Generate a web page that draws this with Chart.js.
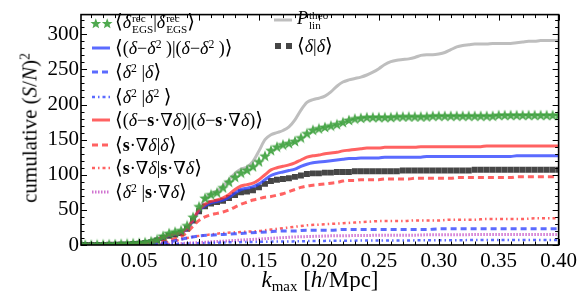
<!DOCTYPE html>
<html><head><meta charset="utf-8">
<script src="https://cdn.jsdelivr.net/npm/chart.js@4"></script>
<style>
body{margin:0;background:#fff}
#wrap{position:relative;width:581px;height:291px;font-family:'Liberation Serif','DejaVu Serif',serif;color:#000;overflow:hidden}
canvas{position:absolute;left:0;top:0}
.row{position:absolute;height:24px;display:flex;align-items:center;font-size:18px;white-space:nowrap;line-height:1}
.row svg{margin-right:2px;flex:none}
.ang{font-family:'DejaVu Serif',serif;font-size:1.1em;font-weight:300}
sup{font-size:0.65em;vertical-align:0.55em;line-height:0}
sub{font-size:0.65em;vertical-align:-0.3em;line-height:0}
.ss{display:inline-flex;flex-direction:column;font-size:0.62em;line-height:0.95;vertical-align:middle;margin-left:1px}
.ttl{position:absolute;white-space:nowrap;font-size:21px;line-height:1}
</style></head>
<body>
<div id="wrap">
<canvas id="c" width="581" height="291"></canvas>
<div id="legend"></div>
<div class="ttl" id="xt" style="left:320px;top:268px;transform:translateX(-50%);font-size:23px"><i>k</i><sub>max</sub> [<i>h</i>/Mpc]</div>
<div class="ttl" id="yt" style="left:30px;top:128px;transform:translate(-50%,-50%) rotate(-90deg)">cumulative (<i>S</i>/<i>N</i>)<sup>2</sup></div>
</div>
<script>
// ---------- data ----------
const k = [0.002,0.005,0.01,0.015,0.02,0.025,0.03,0.035,0.04,0.045,0.05,0.055,0.06,0.065,0.07,0.075,0.08,0.085,0.09,0.095,0.1,0.105,0.11,0.115,0.12,0.125,0.13,0.135,0.14,0.145,0.15,0.155,0.16,0.165,0.17,0.175,0.18,0.185,0.19,0.195,0.2,0.205,0.21,0.215,0.22,0.225,0.23,0.235,0.24,0.245,0.25,0.255,0.26,0.265,0.27,0.275,0.28,0.285,0.29,0.295,0.3,0.305,0.31,0.315,0.32,0.325,0.33,0.335,0.34,0.345,0.35,0.355,0.36,0.365,0.37,0.375,0.38,0.385,0.39,0.395,0.4];
const kCoarse = [0.002,0.01,0.02,0.03,0.04,0.05,0.06,0.07,0.08,0.09,0.1,0.11,0.12,0.13,0.14,0.15,0.16,0.17,0.18,0.19,0.2,0.21,0.22,0.23,0.24,0.25,0.26,0.27,0.28,0.29,0.3,0.31,0.32,0.33,0.34,0.35,0.36,0.37,0.38,0.39,0.4];

const egsRec = [0.3,0.5,0.6,0.8,1,1.2,1.5,1.8,2.2,2.6, 3.2,4,5.5,8,13,17,19,21,28,40, 55,67,72,75,82,90,97,103,107,112, 119,127,135,140,143,145,148,153,159,164, 166,168,170,172,175,178,180,181,182,182, 182,182,182,183,183,183,183,183,183,184, 184,184,184,184,184,184,184,184,184,184, 185,185,185,185,185,185,185,185,185,185,185];
const dMinusD2 = [0,0,0,0.1,0.2,0.3,0.5,0.7,1,1.4, 2,2.8,4.3,6.8,10.5,13.5,15.5,17.5,23,35, 49,56,60,62,64,68,74,79,81,83, 87,93,99,102,104,106,108,112,115,117, 118,119,120,121,122,123,123,124,124,124, 124,125,125,125,125,125,125,125,126,126, 126,126,126,126,126,126,126,126,126,126, 126,126,126,127,127,127,127,127,127,127,127];
const dMinusShift = [0,0,0,0.1,0.2,0.3,0.5,0.7,1,1.5, 2,3,4.5,7,11,14,16,18,24,36, 50,58,62,64,67,72,79,84,86,88, 93,100,107,110,112,114,117,121,125,127, 128,130,131,132,134,135,136,137,138,138, 138,139,139,139,139,139,139,140,140,140, 140,140,140,140,140,140,140,140,141,141, 141,141,141,141,141,141,141,141,141,141,141];
const shiftDelta = [0,0,0,0,0,0,0.1,0.2,0.3,0.5, 0.8,1.2,2,3,5,7,9,12,18,27, 35,40,43,45,47,50,54,58,61,64, 66,68,69,71,73,76,79,82,84,85, 86,87,88,89,91,92,92,93,93,93, 93,94,94,94,94,94,95,95,95,95, 95,95,95,96,96,96,96,96,96,96, 96,96,96,97,97,97,97,97,97,97,97];
const pLinTheo = [0,0,0.1,0.2,0.3,0.5,0.7,1,1.5,2, 3,4,6,9,13,16,18,20,25,36, 51,66,73,77,84,93,102,108,111,119, 134,150,157,160,163,168,178,192,203,207, 209,212,218,226,232,235,237,239,242,246, 251,257,261,263,264,265,267,270,271,271, 272,274,278,282,284,285,286,286,286,287, 287,287,287,288,289,290,290,291,291,291,291];
const deltaDelta = [0,0,0,0.1,0.2,0.3,0.4,0.6,0.9,1.3, 2,2.8,4,6.5,10,13,15,17,23,35, 48,55,59,61,63,67,71,75,76,78, 82,87,91,93,94,95,97,99,101,102, 102,103,103,104,104,104,105,105,105,105, 105,105,105,105,106,106,106,106,106,106, 106,106,106,106,106,106,107,107,107,107, 107,107,107,107,107,107,107,107,107,107,107];
// coarse-grid series
const d2Delta = [0,0,0,0,0.1,0.3,1,3,6,10,13, 14,15,16,17,18,19,20,20,21,21, 21,22,22,22,22,22,22,22,22,23, 23,23,23,23,23,23,23,23,23,23];
const d2D2 = [0,0,0,0,0,0.1,0.3,0.8,1.5,2,2.5, 3,3.5,4,4.2,4.5,4.8,5,5.2,5.5,5.7, 6,6,6.2,6.3,6.4,6.5,6.5,6.6,6.7,6.8, 6.8,6.9,7,7,7,7,7,7,7,7];
const shiftShift = [0,0,0,0,0.1,0.3,0.8,2.5,6,10,13, 15,17,18,19,20,22,24,26,28,29, 30,31,32,33,34,34,34,35,35,35, 36,36,36,37,37,37,37,38,38,38];
const d2Shift = [0,0,0,0,0,0.1,0.3,0.8,1.5,2.5,3.5, 4.5,5.5,6.5,7.5,8.5,9.5,10.5,11.5,12,12.5, 13,13,13.5,13.5,14,14,14,14,14.5,14.5, 14.5,14.5,15,15,15,15,15,15,15,15];

const xTicks = [0.05,0.10,0.15,0.20,0.25,0.30,0.35,0.40];
const yTicks = [0,50,100,150,200,250,300];

// ---------- styles ----------
const C = {
  green:'rgba(60,160,60,0.9)', blue:'rgba(45,65,255,0.78)', red:'rgba(255,45,45,0.75)',
  magenta:'rgba(200,90,200,0.85)', gray:'rgba(190,190,190,1)', black:'rgba(60,60,60,0.95)'
};
function starImg(size,color){
  const cv=document.createElement('canvas'); cv.width=size; cv.height=size;
  const g=cv.getContext('2d'); const cx=size/2, cy=size/2+0.6, R=size/2, r=R*0.42;
  g.beginPath();
  for(let i=0;i<10;i++){const a=-Math.PI/2+i*Math.PI/5; const rr=i%2?r:R; g.lineTo(cx+rr*Math.cos(a),cy+rr*Math.sin(a));}
  g.closePath(); g.fillStyle=color; g.fill(); return cv;
}
const star = starImg(12,C.green);
const pts = (xs,ys)=>xs.map((x,i)=>({x,y:ys[i]}));

const lineDS=(label,xs,ys,color,dash,w,order)=>({label,data:pts(xs,ys),borderColor:color,borderWidth:w,borderDash:dash,pointRadius:0,fill:false,cubicInterpolationMode:'monotone',order});

const datasets=[
  {label:'egs',data:pts(k,egsRec),showLine:false,pointStyle:star,pointRadius:5,order:1},
  lineDS('dd2',k,dMinusD2,C.blue,[],3,3),
  lineDS('d2d',kCoarse,d2Delta,C.blue,[6,4],3,4),
  lineDS('d2d2',kCoarse,d2D2,C.blue,[3,3,1.5,3],2.5,4),
  lineDS('ds',k,dMinusShift,C.red,[],3,2),
  lineDS('sd',k,shiftDelta,C.red,[6,4],3,4),
  lineDS('ss',kCoarse,shiftShift,C.red,[3,3,1.5,3],2.5,4),
  lineDS('d2s',kCoarse,d2Shift,C.magenta,[1.5,1.5],3,4),
  lineDS('plin',k,pLinTheo,C.gray,[],3,9),
  {label:'dd',data:pts(k,deltaDelta),showLine:false,pointStyle:'rect',pointRadius:4.2,backgroundColor:C.black,borderWidth:0,order:5}
];

const frame={id:'frame',afterDraw(chart){
  const {ctx,chartArea:a,scales:{x,y}}=chart;
  ctx.save(); ctx.strokeStyle='#000'; ctx.lineWidth=1;
  const tick=(px,py,dx,dy)=>{ctx.beginPath();ctx.moveTo(px,py);ctx.lineTo(px+dx,py+dy);ctx.stroke();};
  for(let i=1;i<=40;i++){const v=i/100; const px=Math.round(x.getPixelForValue(v))+0.5; const L=(i%5===0)?6:3.5;
    tick(px,a.bottom,0,-L); tick(px,a.top,0,L);}
  for(let v=0;v<=320;v+=10){const py=Math.round(y.getPixelForValue(v))+0.5; const L=(v%50===0)?6:3.5;
    tick(a.left,py,L,0); tick(a.right,py,-L,0);}
  ctx.lineWidth=1.6; ctx.strokeRect(a.left,a.top,a.right-a.left,a.bottom-a.top);
  ctx.restore();
}};

const font={family:"'Liberation Serif','DejaVu Serif',serif",size:21};
new Chart(document.getElementById('c'),{
  type:'line',
  data:{datasets},
  options:{
    responsive:false,animation:false,devicePixelRatio:1,
    layout:{padding:{top:2,right:20,left:0,bottom:0}},
    plugins:{legend:{display:false},tooltip:{enabled:false}},
    scales:{
      x:{type:'linear',min:0.0015,max:0.4,
        afterBuildTicks:s=>{s.ticks=xTicks.map(v=>({value:v}));},
        afterFit:s=>{s.height=46;},
        grid:{display:false,drawTicks:false},border:{display:false},
        ticks:{font,color:'#000',padding:4,maxRotation:0,autoSkip:false,callback:v=>v.toFixed(2)}},
      y:{type:'linear',min:0,max:328,
        afterBuildTicks:s=>{s.ticks=yTicks.map(v=>({value:v}));},
        afterFit:s=>{s.width=81;},
        grid:{display:false,drawTicks:false},border:{display:false},
        ticks:{font,color:'#000',padding:2,autoSkip:false}}
    }
  },
  plugins:[frame]
});

// ---------- legend (HTML text) ----------
const D='<i>δ</i>', S='<b>s</b>', A='<span class="ang">⟨</span>', B='<span class="ang">⟩</span>';
const starPoly=(cx)=>[0,1,2,3,4,5,6,7,8,9].map(i=>{const a=-Math.PI/2+i*Math.PI/5,r=i%2?2.4:5.6;return (cx+r*Math.cos(a)).toFixed(1)+','+(6.8+r*Math.sin(a)).toFixed(1)}).join(' ');
const sw={
  stars:`<svg width="23" height="13"><polygon points="${starPoly(5.8)}" fill="${C.green}"/><polygon points="${starPoly(17.2)}" fill="${C.green}"/></svg>`,
  line:(c,dash,w)=>`<svg width="23" height="8"><line x1="2" y1="4" x2="20" y2="4" stroke="${c}" stroke-width="${w}" stroke-dasharray="${dash}"/></svg>`,
  squares:`<svg width="23" height="8"><rect x="3" y="1" width="6" height="6" fill="${C.black}"/><rect x="14" y="1" width="6" height="6" fill="${C.black}"/></svg>`
};
const ss=(a,b)=>`<span class="ss"><span>${a}</span><span>${b}</span></span>`;
const rows=[
  [90,11,sw.stars, `${A}${D}${ss('rec','EGS')}|${D}${ss('rec','EGS')}${B}`],
  [90,36,sw.line(C.blue,'',3), `${A}(${D}−${D}<sup>2</sup> )|(${D}−${D}<sup>2</sup> )${B}`],
  [90,60,sw.line(C.blue,'6 4',3), `${A}${D}<sup>2</sup> |${D}${B}`],
  [90,85,sw.line(C.blue,'3 3 1.5 3',2.5), `${A}${D}<sup>2</sup> |${D}<sup>2</sup> ${B}`],
  [90,108,sw.line(C.red,'',3), `${A}(${D}−${S}·∇${D})|(${D}−${S}·∇${D})${B}`],
  [90,133,sw.line(C.red,'6 4',3), `${A}${S}·∇${D}|${D}${B}`],
  [90,156,sw.line(C.red,'3 3 1.5 3',2.5), `${A}${S}·∇${D}|${S}·∇${D}${B}`],
  [90,180,sw.line(C.magenta,'1.5 1.5',3), `${A}${D}<sup>2</sup> |${S}·∇${D}${B}`],
  [272,8,sw.line(C.gray,'',3), `<i>P</i>${ss('theo','lin')}`],
  [272,34,sw.squares, `${A}${D}|${D}${B}`]
];
document.getElementById('legend').innerHTML=rows.map(r=>`<div class="row" style="left:${r[0]}px;top:${r[1]}px">${r[2]}<span>${r[3]}</span></div>`).join('');
</script>
</body></html>
